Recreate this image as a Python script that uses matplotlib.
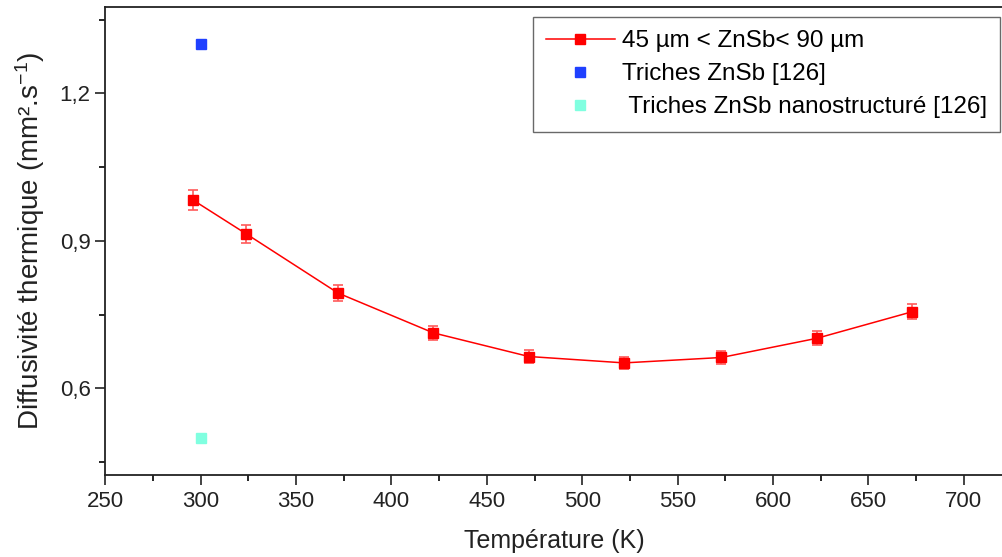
import matplotlib
matplotlib.use("Agg")
import matplotlib.pyplot as plt
from matplotlib.ticker import MultipleLocator, FuncFormatter

plt.rcParams["font.family"] = ["Liberation Sans", "DejaVu Sans"]
plt.rcParams["mathtext.default"] = "regular"

# data
temperature = [296, 324, 372, 422, 472, 522, 573, 623, 673]
diffusivity = [0.983, 0.914, 0.794, 0.713, 0.665, 0.652, 0.663, 0.702, 0.756]
errors = [0.020, 0.018, 0.016, 0.014, 0.013, 0.013, 0.013, 0.014, 0.015]

triches_t = [300]
triches_bulk = [1.30]
triches_nano = [0.50]

label_main = "45 µm < ZnSb< 90 µm"
label_bulk = "Triches ZnSb [126]"
label_nano = " Triches ZnSb nanostructuré [126]"

fig = plt.figure(figsize=(10.03, 5.57), dpi=100)
ax = fig.add_axes([0.105, 0.148, 0.895, 0.839])

ax.errorbar(temperature, diffusivity, yerr=errors, fmt="none", ecolor="#ff5a5a",
            elinewidth=1.2, capsize=3.5, capthick=1.2)
ax.plot(temperature, diffusivity, color="#ff0000", lw=1.1, marker="s", ms=7,
        label=label_main)
ax.plot(triches_t, triches_bulk, "s", color="#1f40ff", ms=6.5, label=label_bulk)
ax.plot(triches_t, triches_nano, "s", color="#80ffe0", ms=6.5, label=label_nano)

ax.set_xlim(250, 720.6)
ax.set_ylim(0.425, 1.375)
ax.xaxis.set_major_locator(MultipleLocator(50))
ax.xaxis.set_minor_locator(MultipleLocator(25))
ax.yaxis.set_major_locator(MultipleLocator(0.3))
ax.yaxis.set_minor_locator(MultipleLocator(0.15))
ax.yaxis.set_major_formatter(FuncFormatter(lambda v, p: f"{v:.1f}".replace(".", ",")))

ax.spines["right"].set_visible(False)
for s in ["left", "bottom", "top"]:
    ax.spines[s].set_linewidth(1.3)
    ax.spines[s].set_color("#222222")

ax.tick_params(axis="both", which="major", direction="out", length=7, width=1.2,
               labelsize=16, colors="#222222")
ax.tick_params(axis="both", which="minor", direction="out", length=4, width=1.2)
ax.tick_params(axis="x", which="major", pad=5)

ax.set_xlabel("Température (K)", fontsize=18, color="#222222", labelpad=12)
ax.set_ylabel("Diffusivité thermique (mm².s$^{-1}$)", fontsize=20, color="#222222", labelpad=9)

leg = ax.legend(loc="upper right", bbox_to_anchor=(0.997, 0.979), fontsize=17.5,
                frameon=True, fancybox=False, edgecolor="#444444", borderpad=0.55,
                handlelength=2.8, labelspacing=0.45, handletextpad=0.3,
                borderaxespad=0)
leg.get_frame().set_linewidth(1.0)

fig.savefig("out.png", dpi=100)
